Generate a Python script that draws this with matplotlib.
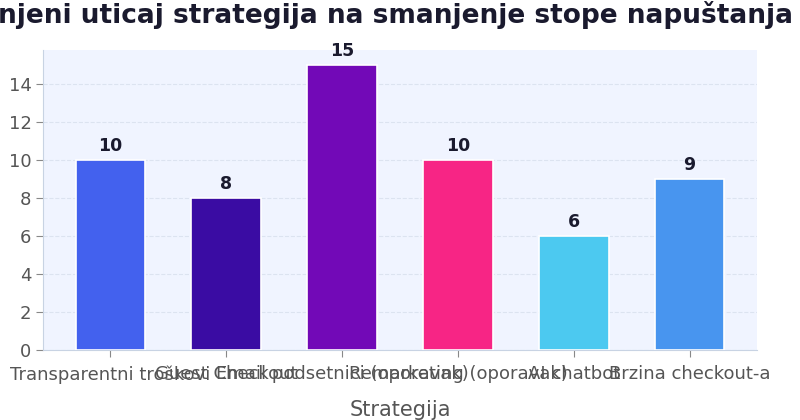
import matplotlib
matplotlib.use("Agg")
from matplotlib import pyplot as plt

strategije = ['Transparentni troškovi', 'Guest Checkout', 'Email podsetnici (oporavak)',
              'Remarketing (oporavak)', 'AI chatbot', 'Brzina checkout-a']
uticaj = [10, 8, 15, 10, 6, 9]
boje = ['#4361EE', '#3A0CA3', '#7209B7', '#F72585', '#4CC9F0', '#4895EF']

plt.rcParams['font.family'] = ['DejaVu Sans']

fig, ax = plt.subplots(figsize=(8, 4.2), dpi=100)
fig.subplots_adjust(left=0.054, right=0.946, top=0.88, bottom=0.167)

ax.set_facecolor('#F0F4FF')
x = range(len(strategije))
bars = ax.bar(x, uticaj, width=0.6, color=boje, edgecolor='white', linewidth=1.2, zorder=3)

# vrednosti iznad stubaca
for b, v in zip(bars, uticaj):
    ax.annotate(str(v), (b.get_x() + b.get_width() / 2, b.get_height()),
                xytext=(0, 3.5), textcoords='offset points', ha='center', va='bottom',
                fontsize=12.5, fontweight='bold', color='#1A1A2E')

ax.set_xticks(list(x))
ax.set_xticklabels(strategije, fontsize=13, color='#555555')
ax.tick_params(axis='y', labelsize=13, labelcolor='#555555', color='#888888', length=5)
ax.tick_params(axis='x', color='#888888', length=5, pad=6)
ax.set_ylim(0, 15.75)
ax.set_yticks(range(0, 16, 2))

ax.yaxis.grid(True, linestyle='--', color='#DCE3F0', linewidth=0.8, zorder=0)
ax.set_axisbelow(True)
for s in ['top', 'right']:
    ax.spines[s].set_visible(False)
for s in ['left', 'bottom']:
    ax.spines[s].set_color('#C8D3E3')

ax.set_xlabel('Strategija', fontsize=15, color='#555555', labelpad=12)
ax.set_title('Procenjeni uticaj strategija na smanjenje stope napuštanja korpe',
             fontsize=19, fontweight='bold', color='#1A1A2E', pad=20)

plt.savefig('out.png')
